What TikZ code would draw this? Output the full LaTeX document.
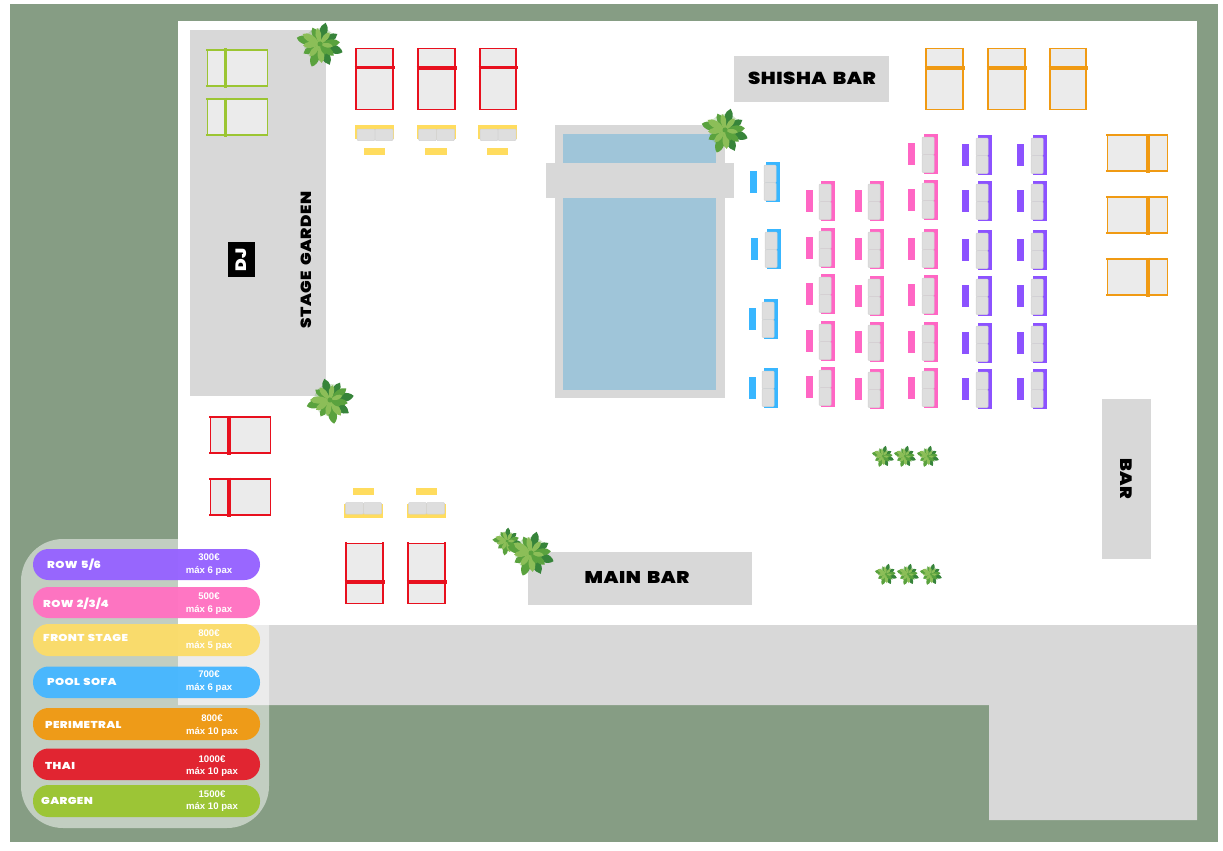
\documentclass[tikz,border=0pt]{standalone}
\usepackage{fontspec}
\setmainfont{Liberation Sans}
\newfontfamily\blk{Poppins Black}[FakeStretch=1.14,LetterSpace=3,WordSpace=1.6]
\newfontfamily\blkrow{Poppins Black}[FakeStretch=1.16,LetterSpace=4,WordSpace=1.4]
\definecolor{ground}{HTML}{869D84}
\definecolor{slab}{HTML}{D8D8D8}
\definecolor{water}{HTML}{9FC5D9}
\definecolor{mattress}{HTML}{EBEBEB}
\definecolor{cushion}{HTML}{DEDEDE}
\definecolor{cushedge}{HTML}{D2D2D2}
\definecolor{cred}{HTML}{E8101E}
\definecolor{corange}{HTML}{F09A13}
\definecolor{cgreen}{HTML}{9BC532}
\definecolor{cyellow}{HTML}{FFDC5E}
\definecolor{cblue}{HTML}{38B6FF}
\definecolor{cpink}{HTML}{FF66C4}
\definecolor{cpurple}{HTML}{8C52FF}
\definecolor{lpurple}{HTML}{9663FF}
\definecolor{lpink}{HTML}{FF72C2}
\definecolor{lyellow}{HTML}{FBDC6A}
\definecolor{lblue}{HTML}{47B7FF}
\definecolor{lorange}{HTML}{F09A13}
\definecolor{lred}{HTML}{E3202D}
\definecolor{lgreen}{HTML}{9BC532}
\definecolor{palmd}{HTML}{37843A}
\definecolor{palmm}{HTML}{5AA23E}
\definecolor{palml}{HTML}{8CBE58}
\tikzset{
  slabbox/.style={fill=slab,draw=none},
  bigtext/.style={font=\blk\fontsize{#1}{#1}\selectfont,text=black,inner sep=0pt},
  pricetext/.style={font=\bfseries\fontsize{9.6}{10}\selectfont,text=white,inner sep=0pt},
  rowtext/.style={font=\blkrow\fontsize{10}{10}\selectfont,text=white,inner sep=0pt,anchor=west},
}
% vertical bed: left right top bottom bandy colour
\newcommand{\vbed}[6]{%
  \fill[mattress] (#1,#3) rectangle (#2,#4);
  \draw[#6,line width=1pt] (#1,#3) -- (#2,#3) (#1,#4) -- (#2,#4);
  \draw[#6,line width=1.4pt] (#1,#3-1) -- (#1,#4+1) (#2,#3-1) -- (#2,#4+1);
  \draw[#6,line width=3.8pt] (#1-1.5,#5) -- (#2+1.5,#5);
}
% horizontal bed: left right top bottom bandx colour
\newcommand{\hbed}[6]{%
  \fill[mattress] (#1,#3) rectangle (#2,#4);
  \draw[#6,line width=1.4pt] (#1-1,#3) -- (#2+1,#3) (#1-1,#4) -- (#2+1,#4);
  \draw[#6,line width=1pt] (#1,#3) -- (#1,#4) (#2,#3) -- (#2,#4);
  \draw[#6,line width=3.8pt] (#5,#3-1.5) -- (#5,#4+1.5);
}
% side sofa: table left, table top, right edge of back, colour
\newcommand{\sidesofa}[4]{%
  \fill[#4] (#1,#2) rectangle (#1+7,#2+22);
  \fill[#4] (#3-14,#2-9) rectangle (#3,#2+31);
  \filldraw[fill=cushion,draw=cushedge,line width=.5pt,rounded corners=1pt] (#3-16,#2-6) rectangle (#3-4,#2+11.7);
  \filldraw[fill=cushion,draw=cushedge,line width=.5pt,rounded corners=1pt] (#3-16,#2+11.7) rectangle (#3-4,#2+29.5);
}
% top sofa: left
\newcommand{\topsofa}[1]{%
  \fill[cyellow] (#1,125) rectangle (#1+39,139);
  \filldraw[fill=cushion,draw=cushedge,line width=.5pt,rounded corners=1pt] (#1+2,129) rectangle (#1+20,140.5);
  \filldraw[fill=cushion,draw=cushedge,line width=.5pt,rounded corners=1pt] (#1+20,129) rectangle (#1+38,140.5);
  \fill[cyellow] (#1+8.5,148) rectangle (#1+30,155);
}
\newcommand{\lowsofa}[1]{%
  \fill[cyellow] (#1,504) rectangle (#1+39.5,518);
  \filldraw[fill=cushion,draw=cushedge,line width=.5pt,rounded corners=1pt] (#1+2,502.5) rectangle (#1+20,514);
  \filldraw[fill=cushion,draw=cushedge,line width=.5pt,rounded corners=1pt] (#1+20,502.5) rectangle (#1+38,514);
  \fill[cyellow] (#1+9,488) rectangle (#1+30.5,495);
}
\newcommand{\leaf}[3]{%
  \fill[#3] (0,0) .. controls (#1-28:.5*#2) and (#1-17:.85*#2) .. (#1:#2) .. controls (#1+17:.85*#2) and (#1+28:.5*#2) .. (0,0);
}
% palm: x y radius rotation
\newcommand{\palm}[4]{%
  \begin{scope}[shift={(#1,#2)},rotate=#4,scale=#3/23]
    \fill[palmm,opacity=.25] (0,0) circle (16);
    \leaf{20}{24}{palmd}\leaf{-30}{20}{palmd}\leaf{65}{23}{palmd}
    \leaf{-75}{22}{palmd}\leaf{110}{24}{palmm}\leaf{150}{19}{palmm}
    \leaf{195}{24}{palmm}\leaf{-115}{18}{palmm}\leaf{-150}{20}{palml}
    \leaf{-5}{20}{palmm}\leaf{40}{18}{palmm}\leaf{85}{19}{palml}
    \leaf{130}{16}{palml}\leaf{175}{17}{palml}\leaf{-100}{16}{palml}\leaf{-50}{15}{palml}
    \leaf{10}{13}{palml}\leaf{60}{12}{palmm}
    \fill[palmm] (0,0) circle (2.5);
  \end{scope}
}
\begin{document}
\begin{tikzpicture}[x=1pt,y=-1pt]
\useasboundingbox (0,0) rectangle (1223,851);
\fill[white] (0,0) rectangle (1223,851);
\fill[ground] (10,4) rectangle (1218,842);
\fill[white] (178,21) rectangle (1197,625);
\fill[slab] (178,625) -- (1197,625) -- (1197,820) -- (989,820) -- (989,705) -- (178,705) -- cycle;
% stage
\node[slabbox,anchor=north west,minimum width=136pt,minimum height=366pt,inner sep=0pt] (stage) at (190,30) {};
\node[fill=black,anchor=north west,minimum width=27pt,minimum height=35pt,inner sep=0pt] (dj) at (228,242) {};
\node[font=\blk\fontsize{15}{15}\selectfont,text=white,rotate=90,inner sep=0pt] (djtext) at (dj.center) {DJ};
\node[bigtext=14.7,rotate=90] (stagetext) at (306,260) {STAGE GARDEN};
% bars
\node[slabbox,anchor=north west,minimum width=155pt,minimum height=46pt,inner sep=0pt] (shisha) at (734,56) {};
\node[bigtext=17.3] (shishatext) at (812,78.5) {SHISHA BAR};
\node[slabbox,anchor=north west,minimum width=224pt,minimum height=53pt,inner sep=0pt] (mainbar) at (528,552) {};
\node[bigtext=17] (mainbartext) at (637,577.5) {MAIN BAR};
\node[slabbox,anchor=north west,minimum width=49pt,minimum height=160pt,inner sep=0pt] (bar) at (1102,399) {};
\node[bigtext=16.5,rotate=-90] (bartext) at (1126,479) {BAR};
% pool
\fill[slab] (555,125) rectangle (725,398);
\fill[water] (563,134) rectangle (716,390);
\fill[slab] (546,163) rectangle (734,198);
% beds
\hbed{207}{267}{50}{86}{225.5}{cgreen}
\hbed{207}{267}{99}{135}{225.5}{cgreen}
\vbed{356}{393}{49}{109}{67.5}{cred}
\vbed{418}{455}{49}{109}{68}{cred}
\vbed{480}{516}{49}{109}{67.5}{cred}
\vbed{926}{963}{49}{109}{68}{corange}
\vbed{988}{1025}{49}{109}{68}{corange}
\vbed{1050}{1086}{49}{109}{68}{corange}
\hbed{1107}{1167}{135}{171}{1148}{corange}
\hbed{1107}{1167}{197}{233}{1148}{corange}
\hbed{1107}{1167}{259}{295}{1148}{corange}
\hbed{210}{270}{417}{453}{229}{cred}
\hbed{210}{270}{479}{515}{229}{cred}
\vbed{346}{383}{543}{603}{582}{cred}
\vbed{408}{445}{543}{603}{582}{cred}
% sofas
\topsofa{355}\topsofa{416.5}\topsofa{478}
\lowsofa{343.5}\lowsofa{406.5}
\sidesofa{750}{171}{780}{cblue}
\sidesofa{751}{238}{781}{cblue}
\sidesofa{749}{308}{778}{cblue}
\sidesofa{749}{377}{778}{cblue}
\foreach \yy in {190,237,283,330,376} {\sidesofa{805.5}{\yy}{835}{cpink}}
\foreach \yy in {190,238,285,331,378} {\sidesofa{855}{\yy}{884}{cpink}}
\foreach \yy in {143,189,238,284,331,377} {\sidesofa{908}{\yy}{938}{cpink}}
\foreach \yy in {144,190,239,285,332,378} {\sidesofa{962}{\yy}{992}{cpurple}\sidesofa{1017}{\yy}{1047}{cpurple}}
% palms
\palm{320}{44}{23}{0}
\palm{725}{130}{23}{0}
\palm{330}{400}{23}{30}
\palm{507}{541}{14}{10}
\palm{531}{553}{23}{0}
\foreach \xx in {883,905,928} {\palm{\xx}{456}{11}{0}}
\foreach \xx in {886,908,931} {\palm{\xx}{574}{11}{0}}
% legend
\fill[white,opacity=.5,rounded corners=42pt] (21,539) rectangle (269,828);
\foreach \nm/\col/\ta/\tb/\lab/\lx/\ly/\px/\pya/\pyb/\pr/\pax in {
  a/lpurple/549/580/ROW 5\slash 6/47/565/209/557/571/300€/máx 6 pax,
  b/lpink/587/618/ROW 2\slash 3\slash 4/43/603.5/209/596/609.5/500€/máx 6 pax,
  c/lyellow/624/656/FRONT STAGE/43/638/209/633/646/800€/máx 5 pax,
  d/lblue/666.5/698/POOL SOFA/47/682/209/674.5/688/700€/máx 6 pax,
  e/lorange/708/740/PERIMETRAL/45/725/212/718.5/732/800€/máx 10 pax,
  f/lred/748.5/780/THAI/45/766/212/759/772/1000€/máx 10 pax,
  g/lgreen/785/817/GARGEN/41/801/212/794/807/1500€/máx 10 pax} {
  \fill[\col,opacity=.97,rounded corners=15.5pt] (33,\ta) rectangle (260,\tb);
  \node[rowtext] (row\nm) at (\lx,\ly) {\lab};
  \node[pricetext] (price\nm) at (\px,\pya) {\pr};
  \node[pricetext] (pax\nm) at (\px,\pyb) {\pax};
}
\end{tikzpicture}
\end{document}
